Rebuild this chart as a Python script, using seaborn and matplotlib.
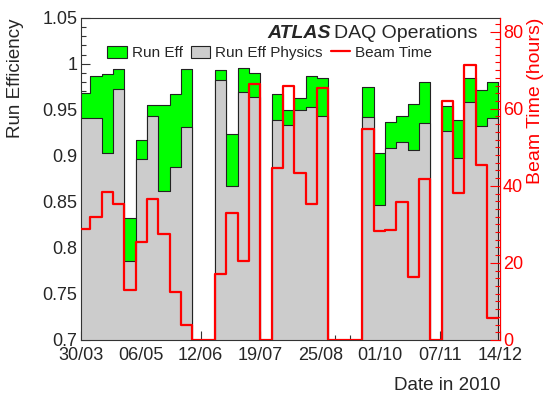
import numpy as np
import pandas as pd
import matplotlib
matplotlib.use("Agg")
import matplotlib.pyplot as plt
from matplotlib.patches import Patch
from matplotlib.lines import Line2D
from matplotlib.ticker import MultipleLocator, FixedLocator
import seaborn as sns

# ---- data (weekly bins, weeks starting on Mondays from 29/03/2010) ----
run_eff = [0.968, 0.987, 0.9885, 0.994, 0.832, 0.9175, 0.955, 0.955, 0.967, 0.994,
           0.0, 0.0, 0.9935, 0.924, 0.995, 0.990, 0.0, 0.967, 0.9494, 0.963,
           0.987, 0.984, 0.0, 0.0, 0.0, 0.9747, 0.9027, 0.937, 0.943, 0.956,
           0.980, 0.0, 0.954, 0.939, 0.984, 0.972, 0.980]
run_eff_physics = [0.9407, 0.9407, 0.9027, 0.9726, 0.786, 0.8965, 0.943, 0.862, 0.8875, 0.9316,
                   0.0, 0.0, 0.982, 0.867, 0.969, 0.964, 0.0, 0.9386, 0.9333, 0.950,
                   0.953, 0.943, 0.0, 0.0, 0.0, 0.9425, 0.8466, 0.909, 0.915, 0.906,
                   0.936, 0.0, 0.9273, 0.898, 0.958, 0.932, 0.9416]
beam_hours = [28.8, 31.8, 38.5, 35.4, 13.0, 25.3, 36.6, 27.6, 12.5, 3.8,
              0.0, 0.0, 17.0, 32.9, 20.5, 66.3, 0.0, 44.5, 66.0, 43.3,
              35.4, 65.3, 0.0, 0.0, 0.0, 54.7, 28.4, 28.5, 35.8, 16.3,
              41.7, 0.0, 61.9, 38.2, 71.4, 45.3, 5.6]
tick_labels = ["30/03", "06/05", "12/06", "19/07", "25/08", "01/10", "07/11", "14/12"]

origin = pd.Timestamp("2010-03-30")
first_monday = pd.Timestamp("2010-03-29")
n = len(run_eff)
week_starts = [first_monday + pd.Timedelta(days=7 * i) for i in range(n + 1)]
edges = [float((d - origin).days) for d in week_starts]
centers = [(a + b) / 2 for a, b in zip(edges[:-1], edges[1:])]
tick_pos = [(pd.Timestamp(f"2010-{lab[3:]}-{lab[:2]}") - origin).days for lab in tick_labels]

df = pd.DataFrame({"day": centers, "eff": run_eff, "phys": run_eff_physics, "beam": beam_hours})

# ---- style ----
sns.set_style("white")
plt.rcParams["font.family"] = ["Liberation Sans", "DejaVu Sans"]

W, H = 545, 394
fig = plt.figure(figsize=(W / 100, H / 100), dpi=100)
x0, x1, y0, y1 = 80.7, 500.0, 17.7, 340.0
ax = fig.add_axes([x0 / W, 1 - y1 / H, (x1 - x0) / W, (y1 - y0) / H])

green = "#00ff00"
gray = "#cccccc"
edge = "#222222"

sns.histplot(data=df, x="day", weights="eff", bins=edges, element="step", fill=True,
             color=green, alpha=1, edgecolor=edge, linewidth=0.8, ax=ax)
sns.histplot(data=df, x="day", weights="phys", bins=edges, element="step", fill=True,
             color=gray, alpha=1, edgecolor=edge, linewidth=0.8, ax=ax)

ax.set_xlim(0, 259)
ax.set_ylim(0.7, 1.05)
ax.set_xlabel("")
ax.set_ylabel("")
ax.xaxis.set_major_locator(FixedLocator(tick_pos))
ax.set_xticklabels(tick_labels)
ax.xaxis.set_minor_locator(MultipleLocator(37 / 4))
ax.set_yticks([0.7, 0.75, 0.8, 0.85, 0.9, 0.95, 1.0, 1.05])
ax.set_yticklabels(["0.7", "0.75", "0.8", "0.85", "0.9", "0.95", "1", "1.05"])
ax.yaxis.set_minor_locator(MultipleLocator(0.01))
ax.tick_params(axis="both", which="major", direction="in", length=6.5, width=0.8,
               color="#333333", labelsize=13)
ax.tick_params(axis="both", which="minor", direction="in", length=3.3, width=0.8,
               color="#333333")
ax.tick_params(axis="x", which="both", top=False, bottom=True, pad=5)
ax.tick_params(axis="y", which="both", left=True, right=False, pad=2.5)
for s in ["left", "bottom", "top"]:
    ax.spines[s].set_color("#333333")
    ax.spines[s].set_linewidth(0.8)
ax.spines["right"].set_visible(False)

# ---- beam time on right axis ----
ax2 = ax.twinx()
sns.histplot(data=df, x="day", weights="beam", bins=edges, element="step", fill=False,
             color="red", linewidth=1.6, ax=ax2)
ax2.set_ylim(0, 83.6)
ax2.set_xlim(0, 259)
ax2.set_ylabel("")
ax2.set_xlabel("")
ax2.yaxis.set_major_locator(MultipleLocator(20))
ax2.yaxis.set_minor_locator(MultipleLocator(2))
ax2.tick_params(axis="y", which="major", direction="in", length=7, width=0.8,
                color="red", labelcolor="red", labelsize=13, pad=2)
ax2.tick_params(axis="y", which="minor", direction="in", length=3.5, width=0.8, color="red")
for s in ["left", "bottom", "top"]:
    ax2.spines[s].set_visible(False)
ax2.spines["right"].set_color("red")
ax2.spines["right"].set_linewidth(0.9)

# ---- texts ----
fig.text(16 / W, 1 - 18 / H, "Run Efficiency", rotation=90, ha="center", va="top", fontsize=13.5)
fig.text(535 / W, 1 - 18 / H, "Beam Time (hours)", rotation=90, ha="center", va="top",
         fontsize=14, color="red")
fig.text(500 / W, 1 - 385 / H, "Date in 2010", ha="right", va="center", fontsize=13.5)
fig.text(267 / W, 1 - 33 / H, "ATLAS", ha="left", va="center", fontsize=14,
         fontweight="bold", fontstyle="italic")
fig.text(478 / W, 1 - 33 / H, "DAQ Operations", ha="right", va="center", fontsize=14)

handles = [Patch(facecolor=green, edgecolor=edge, linewidth=0.8),
           Patch(facecolor=gray, edgecolor=edge, linewidth=0.8),
           Line2D([], [], color="red", linewidth=1.6)]
labels = ["Run Eff", "Run Eff Physics", "Beam Time"]
fig.legend(handles, labels, loc="center left", bbox_to_anchor=(107 / W, 1 - 53 / H),
           ncol=3, frameon=False, fontsize=11, handlelength=1.3, handleheight=0.9,
           handletextpad=0.33, columnspacing=0.5, borderpad=0, borderaxespad=0)

fig.savefig("out.png", dpi=100)
